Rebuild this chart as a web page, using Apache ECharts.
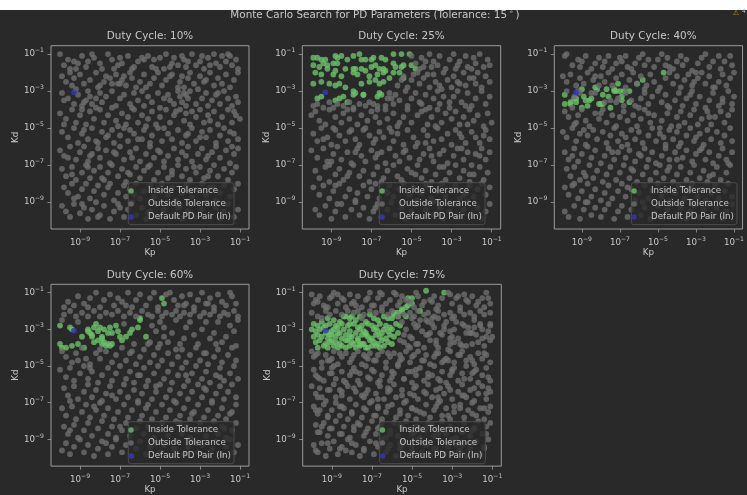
<!DOCTYPE html>
<html>
<head>
<meta charset="utf-8">
<script src="https://cdn.jsdelivr.net/npm/echarts@6/dist/echarts.min.js"></script>
<style>
  html, body { margin: 0; padding: 0; background: #292929; }
  #chart { width: 747px; height: 495px; }
</style>
</head>
<body>
<div id="chart"></div>
<script>
// Monte Carlo samples of (Kp, Kd), one panel per duty cycle.
// Each entry "XXYY": log10(Kp) = -10 + XX/10, log10(Kd) = -10 + YY/10.
const dutyCycles = ['10%', '25%', '40%', '60%', '75%'];
const tickExponents = [-9, -7, -5, -3, -1];
const defaultPair = [-9.3, -3.07]; // log10 Kp, log10 Kd

const inside10 = ``;
const outside10 = `
0090 0284 0487 0786 0882 1189 1383 1486 1788 2085 2182 2490 2687 2984 3088 3185 3489 3783 3986 4188 4287 4489 4683 4787 5088 5282 5390 5685 5788 5984 6189 6383 6486 6690 6884 7086 7189 7282 7488 7790 7885 8083 8189 8386 8490 8684 8887 8982 0582 0985 1690 2782 3682 4882 5583 6287 7584 8589
0178 0375 0580 0673 0777 0871 1079 1274 1576 1880 1972 2275 2378 2577 2674 2879 3176 3373 3580 3677 3872 4075 4279 4574 4777 4980 5173 5376 5578 5972 6075 6178 6272 6477 6580 6774 6971 7078 7376 7580 7773 7977 8174 8379 8572 8776 8980 2974 3074 2073 3278 4372 5679 7275
0169 0466 0763 0968 1162 1365 1470 1663 1866 2069 2164 2367 2670 2862 3066 3268 3563 3769 3965 4170 4262 4467 4664 4969 5061 5266 5468 5763 5970 6067 6164 6269 6362 6466 6368 6570 6863 7166 7369 7462 7665 7868 8063 8270 8466 8662 8867 8964 1264 1567 1861 0265 5565 7969
0058 0355 0660 0853 1057 1352 1559 1755 2060 2253 2457 2661 2854 3158 3352 3456 3760 3953 4157 4455 4659 4852 5056 5360 5553 5757 6060 6254 6358 6552 6856 7060 7253 7457 7759 7952 8156 8460 8653 8857 9055 0252 1160 2951 3661 4351 5859 6659 7554 8759
0148 0445 0750 0942 1147 1444 1650 1843 2148 2345 2649 2742 3046 3250 3443 3747 3944 4249 4542 4646 4950 5143 5447 5644 5949 6142 6346 6650 6843 7148 7345 7549 7842 8046 8250 8443 8747 8944 1249 1942 2446 3549 4144 5250 6447 7045 8548
0038 0235 0540 0833 1037 1240 1432 1636 1939 2034 2338 2531 2836 3040 3233 3537 3839 4032 4336 4540 4734 4938 5232 5435 5739 5933 6137 6440 6632 6936 7139 7333 7637 7840 8034 8338 8531 8736 8939 0434 1535 2737 3634 5037 6335 7435 8640
0128 0324 0629 0822 1126 1330 1523 1727 2029 2222 2426 2630 2924 3128 3321 3525 3829 4023 4227 4530 4722 4926 5229 5423 5627 5930 6124 6328 6522 6826 7029 7223 7527 7730 7924 8228 8422 8626 8829 0625 1429 2123 3426 4429 5625 6729 7424
0218 0415 0620 0913 1117 1320 1512 1716 1919 2214 2418 2711 2915 3219 3313 3517 3820 4012 4216 4519 4713 4917 5120 5414 5618 5811 6115 6319 6613 6817 7120 7314 7518 7811 8015 8219 8513 8717 8920 0712 2520 3714 5016 6516 7718
0108 0305 0502 0709 1004 1207 1401 1606 1810 2003 2208 2501 2705 2909 3202 3406 3610 3803 4107 4301 4505 4809 5002 5206 5410 5703 5907 6101 6405 6609 6802 7106 7310 7503 7807 8001 8205 8409 8702 8906 1109 1902 3007 4404 6008 7709`;

const inside25 = `
0188 0388 0587 0787 1289 1388 1589 1887 2189 2490 2587 2787 3087 3188 3588 3787 4190 4590 4990
0184 0483 0685 0884 1185 1385 1782 2182 2282 2582 2781 3083 3284 3482 3682 4185 4283 4583 4684 5084 5282
0280 0579 0882 1179 1281 1578 2180 2379 2978 3379 3680 3781 4180 4480 4677
0174 0575 0974 1273 1474 1772 2170 2269 2574 2668 2975 3276 3474 3675 3977
0366 0567 1265 1466 1667 1864 2168 2668 3367 3469 3568`;
const outside25 = `
5089 5285 5588 5683 5990 6186 6384 6489 6782 6987 7190 7384 7486 7789 7883 8188 8285 8490 8683 8887 8984 6083 5482 7282 8082 5786
4373 4678 4872 5076 5380 5474 5677 5972 6179 6275 6473 6680 6876 7072 7178 7474 7680 7773 7977 8274 8380 8572 8778 8975 4576 5879 6571 7375 8177 5179
0162 0363 0661 0964 1161 1363 1662 1964 2161 2463 2762 2964 3163 3362 3866 3969 4163 4268 4465 4770 4862 5066 5269 5563 5768 5961 6166 6370 6463 6667 6961 7167 7370 7564 7869 8062 8266 8570 8763 8967 3762 4066 5464 6964 7762
0057 0259 0454 0752 0960 1256 1553 1658 1955 2160 2352 2557 2854 3059 3256 3453 3760 3855 4158 4351 4656 4860 5053 5357 5559 5852 6056 6360 6553 6758 7055 7259 7452 7656 7960 8154 8357 8651 8858 9053 1150 1860 2750 3360 4453 5760 6251 7852
0147 0343 0550 0845 1041 1249 1446 1743 1948 2244 2441 2649 2946 3142 3448 3645 3950 4143 4347 4641 4849 5145 5342 5649 5846 6143 6350 6544 6847 7041 7249 7545 7742 8048 8245 8442 8749 8944 0644 2049 3244 4048 5742 7447 8646
0038 0334 0639 0832 1136 1340 1533 1837 2031 2339 2535 2732 3038 3234 3537 3731 3939 4235 4432 4738 4934 5240 5433 5636 5939 6132 6436 6638 6831 7135 7339 7633 7837 8030 8236 8539 8733 8937 1032 2237 3336 4637 6035 7539 8435
0227 0423 0729 0921 1225 1428 1622 1926 2130 2424 2627 2921 3125 3329 3623 3827 4130 4324 4522 4828 5026 5330 5523 5727 6021 6225 6429 6722 6926 7230 7423 7627 7921 8125 8429 8622 8826 0930 1824 3521 5225 6629 7925
0118 0414 0619 0912 1116 1420 1713 1917 2211 2315 2619 2813 3017 3220 3412 3716 3919 4113 4417 4620 4914 5118 5311 5515 5819 6012 6316 6520 6713 7017 7219 7412 7715 7919 8113 8317 8520 8714 8918 1219 3815 5720 7614
0206 0403 0708 1001 1205 1509 1702 2006 2210 2403 2607 2901 3105 3309 3502 3806 4010 4203 4507 4701 5005 5209 5402 5706 5910 6103 6407 6601 6905 7109 7302 7606 7810 8003 8307 8501 8705 8909 1309 3207 6110`;

const inside40 = `
0168 0163 0463 0464 0764 1071 1167 1265 1061 1362 1465 1772 1871 1963 2063 2163 2168 2371 2561 2770 2771 2870 2974 3070 3167 3165 3270 3564 3570 3974 4276 5380 0666 0766 1566 2467`;
const outside40 = `
0189 0290 0584 0887 1086 1289 1582 1785 1988 2183 2286 2489 2682 2885 3088 3186 3389 3682 3885 4088 4290 4384 4587 4883 5087 5290 5484 5588 5882 6086 6289 6384 6587 6881 7185 7388 7590 7783 7986 8289 8382 8586 8889 8984 0983 3483 5683 7080
0078 0275 0479 0773 0977 1174 1380 1676 1973 2078 2275 2480 2673 2877 3179 3372 3576 3780 3974 4178 4473 4679 4875 5172 5477 5680 5874 6078 6272 6476 6679 6873 7177 7380 7574 7778 8072 8275 8479 8673 8877 9080 1778 4371 6975 7972
0270 3862 4166 4369 4563 4767 5070 5264 5468 5661 5965 6169 6362 6566 6870 7063 7267 7561 7765 7969 8262 8466 8770 8963 3665 3369 2565 2264 1769 0870 0561 4061 5562 6768 8464 9067 0969 1569 2966 3262 2864 0667
0159 0356 0652 0857 1060 1254 1451 1758 1955 2160 2353 2657 2851 3056 3259 3454 3757 3951 4155 4360 4653 4857 5150 5254 5558 5751 6056 6259 6453 6757 6960 7152 7355 7659 7852 8056 8359 8553 8757 8960 0753 2058 4558 6151 7756
0048 0245 0550 0743 0947 1241 1346 1649 1844 2148 2342 2546 2750 2943 3147 3441 3649 3844 4048 4242 4546 4750 4943 5147 5441 5649 5844 6048 6242 6546 6750 6943 7247 7441 7649 7844 8148 8342 8546 8850 8943 1149 3345 5345 7045
0137 0333 0639 0832 1036 1340 1534 1738 2031 2235 2439 2733 2937 3140 3334 3538 3832 4036 4339 4533 4737 4931 5235 5439 5633 5937 6140 6334 6538 6832 7036 7339 7533 7737 7931 8235 8439 8633 8937 0535 2637 4135 6033 7238 8731
0228 0424 0629 0922 1126 1430 1623 1827 2121 2325 2529 2822 3026 3230 3523 3727 3921 4225 4429 4622 4926 5130 5323 5527 5821 6025 6229 6522 6726 6930 7223 7427 7621 7925 8129 8322 8626 8830 1224 3628 5629 7724
0118 0314 0519 0812 1016 1320 1513 1717 2011 2215 2419 2612 2916 3120 3313 3617 3811 4015 4319 4512 4716 5020 5213 5417 5711 5915 6119 6412 6616 6820 7113 7317 7511 7815 8019 8212 8516 8720 8913 0620 3418 6718
0105 0302 0608 0901 1106 1310 1503 1707 2002 2206 2409 2701 2905 3108 3402 3606 3809 4103 4307 4601 4804 5008 5302 5506 5709 6003 6207 6501 6705 6908 7202 7406 7609 7903 8107 8401 8605 8909 1210 4210`;

const inside60 = `
5187 5284 0072 0571 0670 0062 0160 0360 0661 0962 1260 1166 1470 1568 1666 1771 1873 1969 2071 2166 2162 2263 2361 2462 2561 2662 1964 1763 1667 2270 2468 2571 2872 3066 3164 3366 3568 3670 3971 4075 4076 4366 2969 2668 1469 2165`;
const outside60 = `
0485 0783 0988 1284 1587 1890 2082 2286 2589 2783 2987 3185 3490 3682 3886 4089 4383 4587 4790 4982 5590 5786 5983 6188 6384 6589 6782 6986 7190 7384 7587 7782 7989 8185 8383 8688 8884 0282 1482 3383 5389 6283 7484 8590
0278 0580 0877 1179 1477 1780 2077 2379 2678 2980 3277 3579 3877 4180 4478 4677 4980 5177 5379 5678 5880 6077 6279 6578 6780 7077 7279 7578 7780 8077 8279 8478 8780 8977
0175 0974 3273 4672 4869 5074 5266 5271 5463 5668 5875 6062 6265 6371 6574 6767 6962 7170 7374 7565 7768 7974 8163 8366 8572 8769 8975 5062 4563 3762 4462 7862 8861
0158 0355 0652 0857 1160 1354 1551 1857 2054 2358 2652 2856 3160 3353 3557 3851 4055 4259 4552 4756 4960 5153 5457 5651 5955 6159 6352 6556 6860 7053 7257 7451 7755 7959 8152 8456 8660 8853 0953 2059 3658 5859 7357
0048 0344 0549 0742 1046 1250 1443 1647 1941 2145 2449 2642 2846 3050 3343 3547 3741 4045 4249 4442 4746 4950 5243 5447 5641 5945 6149 6442 6646 6850 7143 7347 7541 7845 8049 8242 8546 8750 8943 1549 3945 6345 8044
0238 0434 0739 0932 1236 1440 1633 1837 2131 2335 2539 2832 3036 3240 3433 3737 3931 4135 4339 4632 4836 5040 5333 5537 5731 6035 6239 6432 6636 6940 7133 7337 7631 7835 8039 8232 8436 8640 8833 0531 2634 4839 7238
0127 0323 0628 0821 1125 1329 1522 1826 2030 2223 2427 2721 2925 3229 3422 3626 3930 4123 4327 4621 4825 5129 5322 5526 5830 6023 6227 6521 6725 6929 7222 7426 7630 7923 8127 8321 8625 8829 1728 4429 6624 8524
0217 0413 0718 0911 1215 1419 1612 1916 2120 2413 2617 2811 3115 3319 3512 3816 4020 4213 4417 4711 4915 5119 5412 5616 5820 6113 6317 6511 6815 7019 7312 7516 7720 7913 8117 8311 8615 8819 0515 3017 6019 8216
0104 0308 0502 0706 1010 1203 1407 1701 1905 2109 2402 2606 2810 3103 3307 3601 3805 4009 4302 4506 4710 5003 5207 5501 5705 5909 6202 6406 6610 6903 7107 7401 7605 7809 8102 8306 8510 8703 8907 2308 4808 6808`;

const inside75 = `
0574 0876 1175 1474 1777 1976 2275 2477 2774 2978 3176 3375 3677 3876 4178 4377 1677 2077
0173 0372 0671 0973 1272 1371 1573 1872 2173 2371 2572 2873 3072 3271 3473 3772 3971 4273 4472 0772 1973
0070 0269 0470 0768 1069 1170 1468 1670 1969 2268 2470 2669 2768 3170 3369 3568 3670 3869 4070 4368 0868 1368
0166 0367 0566 0865 1067 1266 1565 1767 2066 2365 2567 2866 3065 3267 3466 3765 3967 4166 0967 1966 2767
0263 0464 0762 1064 1263 1462 1864 2063 2162 2364 2662 2964 3163 3362 3564 3863 4062 0963 1764 2462
0360 0661 0860 1161 1360 1561 1760 1961 2260 2461 2760 3061 3261 3460 3661 2562 2860
4883 5084 4782 4581 4580 4179 4379 4076 4777 5480 4887 5087 5791 6690`;
const outside75 = `
0089 0286 0488 0683 0987 1190 1384 1587 1782 1989 2185 2388 2582 2786 2990 3183 3387 3589 3784 3986 4190 4383 4588 4985 5182 5388 5583 5986 6188 6383 6587 6890 7084 7287 7482 7689 7885 8088 8283 8587 8790 8984 0385 0882 1686 2283 3083 4485 6085 7388 8385 5290 3490 1088
0079 0377 0780 0978 1280 1578 1880 2179 2380 2678 2980 3279 3580 3878 4080 4377 4678 4979 5177 5380 5678 5879 6177 6380 6678 6979 7177 7480 7678 7979 8177 8480 8678 8979 0576 2576 5076 6076
4574 4770 4966 5173 5362 5569 5775 5964 6171 6360 6567 6774 6962 7170 7365 7573 7761 7968 8175 8363 8570 8766 8973 4861 5065 5271 5475 5660 5867 6073 6262 6468 6672 6859 7066 7274 7561 7768 7871 8062 8267 8473 8661 8869 9066 4667 4464 5968 6376 7076 8472 8964 5262 6965 7462 8171
0058 0155 0357 0552 0756 0953 1158 1351 1555 1757 1952 2156 2358 2551 2755 2957 3153 3356 3558 3752 3955 4157 4351 4554 4758 4952 5156 5358 5553 5756 5951 6155 6357 6552 6754 6958 7152 7356 7558 7753 7955 8151 8357 8554 8756 8952 1054 2854 4456 6653
0148 0344 0549 0642 0946 1150 1243 1547 1741 1945 2149 2342 2446 2750 2943 3147 3341 3545 3749 3942 4146 4350 4643 4847 5041 5245 5449 5642 5846 6150 6343 6547 6741 6945 7149 7342 7546 7750 7943 8147 8341 8545 8749 8942 0245 1049 2047 3048 4044 5047 6045 7048 8046
0039 0235 0438 0731 0837 1140 1233 1536 1839 1932 2236 2440 2633 2837 3031 3235 3439 3632 3836 4140 4233 4537 4731 4935 5239 5332 5636 5840 6033 6237 6431 6635 6839 7032 7336 7540 7733 7937 8131 8335 8539 8732 8936 0533 1437 2534 3838 5134 6438 7634 8838
0128 0324 0629 0822 1026 1230 1423 1627 1821 2025 2229 2522 2726 2930 3123 3327 3521 3725 4029 4222 4426 4630 4823 5027 5221 5425 5729 5922 6126 6330 6523 6727 6921 7125 7429 7622 7826 8030 8223 8427 8621 8825 0426 1528 3328 5226 7128 8928
0218 0414 0619 0812 1016 1220 1413 1617 1911 2115 2319 2612 2816 3020 3213 3417 3711 3915 4119 4312 4516 4720 5013 5217 5411 5615 5819 6112 6316 6520 6713 6917 7211 7415 7619 7912 8116 8320 8513 8717 8919 0517 2418 4418 6018 8015 3519
0107 0303 0508 0701 0905 1109 1302 1506 1810 2003 2207 2401 2605 2909 3102 3306 3510 3703 3907 4201 4405 4609 4802 5006 5310 5503 5707 5901 6105 6409 6602 6806 7010 7303 7507 7701 7905 8209 8402 8606 8810 1704 4507 7207
0184 0782 1389 2084 2887 3582 4289 4786 5685 6281 6989 7786 8682 8887
4663 5372 5767 6264 6670 7163 7672 8068 8565 8972 4960 5874 6969 7968
0256 0853 1457 2054 2656 3253 3857 4453 5055 5653 6257 6853 7456 8053 8657
0443 1046 1642 2247 2844 3442 4047 4643 5248 5844 6442 7047 7643 8248 8844
0333 0937 1534 2138 2735 3332 3937 4534 5138 5735 6333 6937 7534 8138 8735
0226 0823 1428 2024 2627 3223 3828 4424 5027 5624 6228 6823 7427 8024 8627
0314 0916 1513 2117 2714 3316 3913 4517 5114 5716 6313 6917 7514 8116 8713
0204 0808 1405 2008 2604 3208 3805 4408 5004 5608 6205 6808 7404 8008 8605`;

const insideSets = [inside10, inside25, inside40, inside60, inside75];
const outsideSets = [outside10, outside25, outside40, outside60, outside75];

function decode(s) {
  return s.trim().split(/\s+/).filter(Boolean).map(t => [
    -10 + Number(t.slice(0, 2)) / 10,
    -10 + Number(t.slice(2, 4)) / 10
  ]);
}

const FONT = 'DejaVu Sans';
const BG = '#292929';
const TXT = '#c8c8c8';
const SPINE = '#9c9c9c';
const COLORS = { inside: '#6cc06a', outside: '#6e6e6e', def: '#3737b4' };
const DOT = 5.8;

// panel frames: [left, top, width, height]
const frames = [
  [51, 45.7, 198, 183.3],
  [302.3, 45.7, 198.4, 183.3],
  [554.3, 45.7, 198, 183.3],
  [51, 284.3, 198, 183.7],
  [302.7, 284.3, 198.6, 183.7]
];
const legendPos = [
  [128.3, 182.7], [379.3, 182.7], [631.3, 182.7],
  [128.3, 421.7], [379.7, 421.7]
];

const supLabel = v => '{b|10}{s|' + String(v).replace('-', '\u2212') + '}';
const labelRich = {
  b: { fontSize: 8.7, color: TXT, fontFamily: FONT },
  s: { fontSize: 6.1, color: TXT, fontFamily: FONT, padding: [0, 0, 7, 0] }
};

const grids = [], xAxes = [], yAxes = [], series = [], legends = [], graphics = [];

frames.forEach((f, i) => {
  grids.push({
    left: f[0], top: f[1], width: f[2], height: f[3],
    show: true, backgroundColor: BG, borderColor: SPINE, borderWidth: 1,
    containLabel: false
  });
  const axisCommon = {
    type: 'value', min: -10.45, max: -0.55, gridIndex: i,
    splitLine: { show: false },
    axisLine: { show: false },
    axisTick: { show: true, customValues: tickExponents, length: 3.5, lineStyle: { color: SPINE, width: 0.8 } },
    axisLabel: { customValues: tickExponents, margin: 7, formatter: supLabel, rich: labelRich },
    nameLocation: 'middle',
    nameTextStyle: { fontSize: 8.7, color: TXT, fontFamily: FONT }
  };
  xAxes.push(Object.assign({}, axisCommon, { position: 'bottom', name: 'Kp', nameGap: 18.5 }));
  yAxes.push(Object.assign({}, axisCommon, { position: 'left', name: 'Kd', nameGap: 30 }));

  series.push({
    type: 'scatter', name: 'Inside Tolerance', xAxisIndex: i, yAxisIndex: i,
    data: decode(insideSets[i]), symbolSize: DOT, silent: true,
    itemStyle: { color: COLORS.inside }
  });
  series.push({
    type: 'scatter', name: 'Outside Tolerance', xAxisIndex: i, yAxisIndex: i,
    data: decode(outsideSets[i]), symbolSize: DOT, silent: true,
    itemStyle: { color: COLORS.outside }
  });
  series.push({
    type: 'scatter', name: 'Default PD Pair (In)', xAxisIndex: i, yAxisIndex: i,
    data: [defaultPair], symbolSize: DOT, silent: true, z: 3,
    itemStyle: { color: COLORS.def }
  });

  legends.push({
    left: legendPos[i][0], top: legendPos[i][1],
    orient: 'vertical', icon: 'circle',
    itemWidth: 24, itemHeight: 5.5, itemGap: 4,
    padding: [3.8, 3, 3.2, 0],
    backgroundColor: 'rgba(41,41,41,0.8)', borderColor: '#4d4d4d', borderWidth: 1, borderRadius: 2.5,
    textStyle: { color: TXT, fontSize: 8.7, fontFamily: FONT, lineHeight: 9 },
    selectedMode: false,
    data: ['Inside Tolerance', 'Outside Tolerance', 'Default PD Pair (In)']
  });

  graphics.push({
    type: 'text', x: f[0] + f[2] / 2, y: f[1] - 9,
    style: { text: 'Duty Cycle: ' + dutyCycles[i], fill: TXT, fontSize: 10.4, fontFamily: FONT, align: 'center', verticalAlign: 'middle' }
  });
});

graphics.push({
  type: 'rect', shape: { x: 0, y: 0, width: 747, height: 10 }, style: { fill: '#ffffff' }
});
graphics.push({
  type: 'text', x: 375, y: 15,
  style: {
    text: '{t|Monte Carlo Search for PD Parameters (Tolerance: 15}{s|\u2218}{t|)}',
    align: 'center', verticalAlign: 'middle',
    rich: {
      t: { fontSize: 10.4, fill: TXT, color: TXT, fontFamily: FONT },
      s: { fontSize: 7.3, fill: TXT, color: TXT, fontFamily: FONT, padding: [0, 2, 6, 2] }
    }
  }
});
graphics.push({
  type: 'text', x: 736, y: 13,
  style: { text: '\u26A0', fill: '#d9a400', fontSize: 7, fontFamily: FONT, align: 'center', verticalAlign: 'middle' }
});
graphics.push({
  type: 'text', x: 744, y: 11,
  style: { text: '4', fill: '#bbbbbb', fontSize: 6, fontFamily: FONT, align: 'center', verticalAlign: 'middle' }
});

const chart = echarts.init(document.getElementById('chart'), null, { renderer: 'canvas' });
chart.setOption({
  backgroundColor: BG,
  animation: false,
  grid: grids,
  xAxis: xAxes,
  yAxis: yAxes,
  legend: legends,
  series: series,
  graphic: graphics
});
</script>
</body>
</html>
